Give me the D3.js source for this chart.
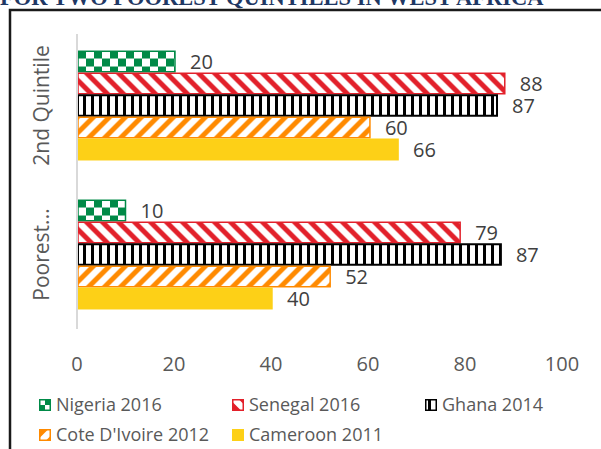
<!DOCTYPE html>
<html>
<head>
<meta charset="utf-8">
<script src="https://cdn.jsdelivr.net/npm/d3@7"></script>
<style>
  body { margin: 0; background: #fff; }
  text { font-family: "Open Sans", sans-serif; }
</style>
</head>
<body>
<script>
// Chart size
var width = 601;
var height = 449;

// Data
var categories = ["2nd Quintile", "Poorest..."];
var seriesNames = ["Nigeria 2016", "Senegal 2016", "Ghana 2014", "Cote D'Ivoire 2012", "Cameroon 2011"];
var secondQuintile = [20.2, 88.2, 86.6, 60.4, 66.2];
var poorestQuintile = [10.0, 79.0, 87.4, 52.2, 40.2];
var xTicks = [0, 20, 40, 60, 80, 100];
var title = "FOR TWO POOREST QUINTILES IN WEST AFRICA";

var values = [secondQuintile, poorestQuintile];
var colors = ["#008a47", "#e2202a", "#000000", "#ff8a00", "#fdd017"];
var fills = ["url(#checker)", "url(#downDiag)", "url(#vert)", "url(#upDiag)", "#fdd017"];

var svg = d3.select("body")
            .append("svg")
            .attr("width", width)
            .attr("height", height);

// Patterns
var defs = svg.append("defs");

var checker = defs.append("pattern")
    .attr("id", "checker")
    .attr("patternUnits", "userSpaceOnUse")
    .attr("x", 78).attr("y", 0)
    .attr("width", 16).attr("height", 16);
checker.append("rect").attr("width", 16).attr("height", 16).attr("fill", "#fff");
checker.append("rect").attr("width", 8).attr("height", 8).attr("fill", colors[0]);
checker.append("rect").attr("x", 8).attr("y", 8).attr("width", 8).attr("height", 8).attr("fill", colors[0]);

var down = defs.append("pattern")
    .attr("id", "downDiag")
    .attr("patternUnits", "userSpaceOnUse")
    .attr("width", 16).attr("height", 16);
down.append("rect").attr("width", 16).attr("height", 16).attr("fill", "#fff");
down.append("path")
    .attr("d", "M-4,-4L20,20M-4,12L4,20M12,-4L20,4")
    .attr("stroke", colors[1]).attr("stroke-width", 5);

var vert = defs.append("pattern")
    .attr("id", "vert")
    .attr("patternUnits", "userSpaceOnUse")
    .attr("x", 78)
    .attr("width", 8).attr("height", 8);
vert.append("rect").attr("width", 8).attr("height", 8).attr("fill", "#fff");
vert.append("rect").attr("x", 5).attr("width", 3).attr("height", 8).attr("fill", "#000");

var up = defs.append("pattern")
    .attr("id", "upDiag")
    .attr("patternUnits", "userSpaceOnUse")
    .attr("width", 16).attr("height", 16);
up.append("rect").attr("width", 16).attr("height", 16).attr("fill", "#fff");
up.append("path")
    .attr("d", "M-4,20L20,-4M-4,4L4,-4M12,20L20,12")
    .attr("stroke", colors[3]).attr("stroke-width", 5);

// Title (cut off at the top) and frame
svg.append("text")
    .attr("x", 0)
    .attr("y", 5)
    .attr("fill", "#1f3864")
    .style("font-family", "'Liberation Serif', serif")
    .style("font-weight", "bold")
    .style("font-size", "22.5px")
    .text(title);

svg.append("path")
    .attr("d", "M10," + height + "V10H" + width)
    .attr("fill", "none")
    .attr("stroke", "#1a1a1a")
    .attr("stroke-width", 2.5);

// Scales
var x = d3.scaleLinear().domain([0, 100]).range([77, 562]);

var y = d3.scaleBand()
    .domain(categories)
    .range([31, 329])
    .paddingInner(0.262)
    .paddingOuter(0.131);

var ySub = d3.scaleBand()
    .domain(d3.range(seriesNames.length))
    .range([0, y.bandwidth()]);

// Bars
var groups = svg.selectAll(".group")
    .data(categories)
    .enter()
    .append("g")
    .attr("class", "group")
    .attr("transform", function(d) { return "translate(0," + y(d) + ")"; });

groups.selectAll("rect")
    .data(function(d, i) { return values[i]; })
    .enter()
    .append("rect")
    .attr("x", x(0) + 1)
    .attr("y", function(d, j) { return ySub(j) + 0.75; })
    .attr("width", function(d) { return x(d) - x(0) - 1; })
    .attr("height", ySub.bandwidth() - 1.5)
    .attr("fill", function(d, j) { return fills[j]; })
    .attr("stroke", function(d, j) { return colors[j]; })
    .attr("stroke-width", function(d, j) { return j === 2 ? 2 : 1.5; });

groups.selectAll(".val")
    .data(function(d, i) { return values[i]; })
    .enter()
    .append("text")
    .attr("class", "val")
    .attr("x", function(d) { return x(d) + 15; })
    .attr("y", function(d, j) { return ySub(j) + ySub.bandwidth() / 2; })
    .attr("dy", "0.36em")
    .attr("fill", "#404040")
    .style("font-size", "20px")
    .text(function(d) { return d3.format(".0f")(d); });

// Y axis line and category labels
svg.append("line")
    .attr("x1", x(0)).attr("x2", x(0))
    .attr("y1", y.range()[0] + 3).attr("y2", y.range()[1])
    .attr("stroke", "#d9d9d9")
    .attr("stroke-width", 2);

svg.selectAll(".cat")
    .data(categories)
    .enter()
    .append("text")
    .attr("class", "cat")
    .attr("transform", function(d) {
      return "translate(41," + (y(d) + y.bandwidth() / 2) + ") rotate(-90)";
    })
    .attr("text-anchor", "middle")
    .attr("dy", "0.36em")
    .attr("fill", "#595959")
    .style("font-size", "21px")
    .text(function(d) { return d; });

// X tick labels
svg.selectAll(".tick")
    .data(xTicks)
    .enter()
    .append("text")
    .attr("class", "tick")
    .attr("x", function(d) { return x(d); })
    .attr("y", 364)
    .attr("dy", "0.36em")
    .attr("text-anchor", "middle")
    .attr("fill", "#595959")
    .style("font-size", "20px")
    .text(function(d) { return d; });

// Legend
var legendPos = [[39, 405], [232, 405], [425, 405], [39, 435], [232, 435]];

var legend = svg.selectAll(".legend")
    .data(seriesNames)
    .enter()
    .append("g")
    .attr("class", "legend")
    .attr("transform", function(d, i) { return "translate(" + legendPos[i][0] + "," + legendPos[i][1] + ")"; });

legend.append("rect")
    .attr("x", 0.75).attr("y", -5.25)
    .attr("width", 10.5).attr("height", 10.5)
    .attr("fill", function(d, i) { return fills[i]; })
    .attr("stroke", function(d, i) { return colors[i]; })
    .attr("stroke-width", 1.5);

legend.append("text")
    .attr("x", 17)
    .attr("dy", "0.36em")
    .attr("fill", "#595959")
    .style("font-size", "18px")
    .text(function(d) { return d; });
</script>
</body>
</html>
